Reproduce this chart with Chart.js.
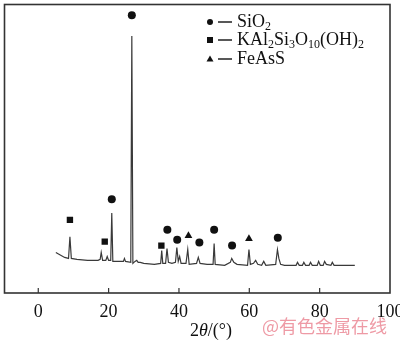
<!DOCTYPE html>
<html>
<head>
<meta charset="utf-8">
<script src="https://cdn.jsdelivr.net/npm/chart.js@4/dist/chart.umd.min.js"></script>
<style>
  html, body { margin: 0; padding: 0; background: #fff; }
  #wrap { width: 400px; height: 340px; }
</style>
</head>
<body>
<div id="wrap"><canvas id="xrdChart"></canvas></div>
<script>
// XRD pattern, 2theta in degrees, intensity in arbitrary units
const twoTheta = [5.0, 6.0, 7.5, 8.6, 9.0, 9.4, 11.0, 14.0, 17.0, 17.6, 17.9, 18.3, 19.2, 19.6, 20.0, 20.6, 20.9, 21.2,
  22.5, 24.2, 24.5, 24.8, 26.3, 26.6, 26.9, 27.5, 28.0, 28.4, 29.0, 30.0, 33.0, 34.8, 35.1, 35.4, 36.2, 36.6, 37.0,
  38.0, 39.0, 39.4, 39.8, 40.2, 40.6, 42.0, 42.5, 42.9, 45.0, 45.5, 46.0, 48.0, 49.7, 50.0, 50.3, 53.0, 54.6, 55.0,
  55.6, 56.5, 59.5, 59.9, 60.3, 61.2, 61.8, 62.4, 63.5, 64.1, 64.7, 67.5, 68.0, 68.4, 68.9, 70.0, 73.3, 73.7, 74.2,
  75.1, 75.5, 76.0, 77.0, 77.4, 77.9, 79.3, 79.7, 80.2, 81.0, 81.4, 81.9, 83.2, 83.6, 84.1, 87.0, 90.0];
const intensity = [41, 39, 36, 35, 57, 35, 34, 33, 33, 34, 41, 33, 33, 37, 33, 33, 81, 32,
  32, 32, 35, 32, 31, 260, 30, 32, 33, 31, 31, 30, 29, 30, 43, 30, 30, 45, 31,
  30, 31, 46, 32, 37, 30, 30, 44, 29, 30, 36, 30, 29, 29, 50, 29, 28, 31, 35,
  31, 29, 28, 44, 29, 30, 33, 29, 28, 32, 28, 29, 44, 35, 29, 28, 28, 31, 28,
  28, 31, 28, 28, 31, 28, 28, 32, 28, 28, 32, 29, 28, 31, 28, 28, 28];

// phase markers (peak position, label height)
const quartzX = [26.6, 20.9, 36.7, 39.5, 45.8, 50.0, 55.1, 68.1];
const quartzY = [281, 95, 64, 54, 51, 64, 48, 56];
const micaX = [9.0, 18.9, 35.0];
const micaY = [74, 52, 48];
const arsenoX = [42.7, 59.9];
const arsenoY = [58, 55];

const xTicks = [0, 20, 40, 60, 80, 100];

const serif = '"Liberation Serif", "DejaVu Serif", serif';
const ink = '#111';

function toPoints(xs, ys) {
  return xs.map((x, i) => ({ x: x, y: ys[i] }));
}

// frame, inward ticks, tick labels, axis title, legend and watermark
const decorations = {
  id: 'decorations',
  afterDraw(chart) {
    const ctx = chart.ctx;
    const a = chart.chartArea;
    const xs = chart.scales.x;
    ctx.save();
    ctx.strokeStyle = '#333';
    ctx.lineWidth = 1.6;
    ctx.strokeRect(a.left, a.top, a.right - a.left, a.bottom - a.top);

    ctx.lineWidth = 1.2;
    ctx.fillStyle = ink;
    ctx.font = '18px ' + serif;
    ctx.textAlign = 'center';
    ctx.textBaseline = 'middle';
    xTicks.forEach(v => {
      const px = xs.getPixelForValue(v);
      if (v < 100) {
        ctx.beginPath();
        ctx.moveTo(px, a.bottom);
        ctx.lineTo(px, a.bottom - 5);
        ctx.stroke();
      }
      ctx.fillText(String(v), px, a.bottom + 19);
    });

    // axis title 2θ/(°)
    ctx.textAlign = 'left';
    let tx = 190;
    const ty = 331;
    ctx.font = '18px ' + serif;
    ctx.fillText('2', tx, ty); tx += ctx.measureText('2').width;
    ctx.font = 'italic 18px ' + serif;
    ctx.fillText('θ', tx, ty); tx += ctx.measureText('θ').width;
    ctx.font = '18px ' + serif;
    ctx.fillText('/(°)', tx, ty);

    // legend
    const rows = [
      { style: 'circle', y: 22, parts: [['SiO', 0], ['2', 1]] },
      { style: 'rect', y: 40, parts: [['KAl', 0], ['2', 1], ['Si', 0], ['3', 1], ['O', 0], ['10', 1], ['(OH)', 0], ['2', 1]] },
      { style: 'triangle', y: 59, parts: [['FeAsS', 0]] }
    ];
    rows.forEach(r => {
      ctx.fillStyle = ink;
      ctx.beginPath();
      if (r.style === 'circle') {
        ctx.arc(210, r.y, 3, 0, Math.PI * 2);
      } else if (r.style === 'rect') {
        ctx.rect(207, r.y - 3, 6, 6);
      } else {
        ctx.moveTo(210, r.y - 3.5);
        ctx.lineTo(213.5, r.y + 2.5);
        ctx.lineTo(206.5, r.y + 2.5);
        ctx.closePath();
      }
      ctx.fill();
      ctx.beginPath();
      ctx.lineWidth = 1.4;
      ctx.strokeStyle = ink;
      ctx.moveTo(218, r.y);
      ctx.lineTo(232, r.y);
      ctx.stroke();
      let lx = 237;
      r.parts.forEach(p => {
        if (p[1]) {
          ctx.font = '12px ' + serif;
          ctx.fillText(p[0], lx, r.y + 5);
        } else {
          ctx.font = '18px ' + serif;
          ctx.fillText(p[0], lx, r.y);
        }
        lx += ctx.measureText(p[0]).width;
      });
    });

    // watermark
    ctx.fillStyle = 'rgba(232, 120, 135, 0.75)';
    ctx.font = '18px "Noto Sans CJK SC", sans-serif';
    ctx.fillText('@有色金属在线', 262, 326);
    ctx.restore();
  }
};

new Chart(document.getElementById('xrdChart'), {
  type: 'line',
  data: {
    datasets: [
      {
        label: 'XRD',
        data: toPoints(twoTheta, intensity),
        borderColor: '#3a3a3a',
        borderWidth: 1.2,
        pointRadius: 0,
        tension: 0,
        fill: false
      },
      {
        label: 'SiO2',
        data: toPoints(quartzX, quartzY),
        showLine: false,
        pointStyle: 'circle',
        pointRadius: 4,
        backgroundColor: ink,
        borderColor: ink,
        borderWidth: 0
      },
      {
        label: 'KAl2Si3O10(OH)2',
        data: toPoints(micaX, micaY),
        showLine: false,
        pointStyle: 'rect',
        pointRadius: 4.5,
        backgroundColor: ink,
        borderColor: ink,
        borderWidth: 0
      },
      {
        label: 'FeAsS',
        data: toPoints(arsenoX, arsenoY),
        showLine: false,
        pointStyle: 'triangle',
        pointRadius: 4.5,
        backgroundColor: ink,
        borderColor: ink,
        borderWidth: 0
      }
    ]
  },
  options: {
    responsive: true,
    maintainAspectRatio: false,
    animation: false,
    layout: { padding: { left: 2, right: 10, top: 1, bottom: 0 } },
    plugins: {
      legend: { display: false },
      tooltip: { enabled: false }
    },
    scales: {
      x: {
        type: 'linear',
        min: -9.6,
        max: 100,
        grid: { display: false },
        border: { display: false },
        ticks: { display: false },
        afterFit(scale) { scale.height = 47; }
      },
      y: {
        display: false,
        min: 0,
        max: 292
      }
    }
  },
  plugins: [decorations]
});
</script>
</body>
</html>
